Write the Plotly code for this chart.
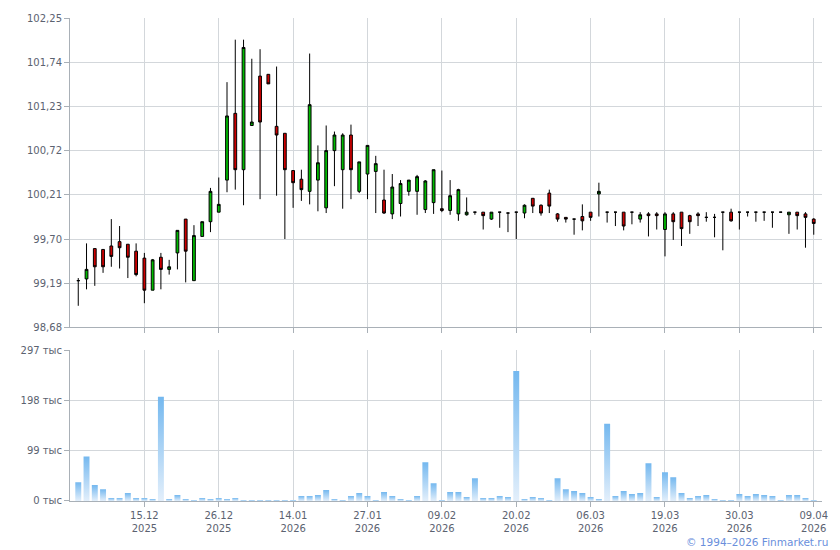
# Bond price candles with daily volume (Finmarket style)
import plotly.graph_objects as go

# Trading days shown on the chart
DATES = [
    "03.12.2025", "04.12.2025", "05.12.2025", "08.12.2025", "09.12.2025", "10.12.2025",
    "11.12.2025", "12.12.2025", "15.12.2025", "16.12.2025", "17.12.2025", "18.12.2025",
    "19.12.2025", "22.12.2025", "23.12.2025", "24.12.2025", "25.12.2025", "26.12.2025",
    "29.12.2025", "30.12.2025", "05.01.2026", "06.01.2026", "08.01.2026", "09.01.2026",
    "12.01.2026", "13.01.2026", "14.01.2026", "15.01.2026", "16.01.2026", "19.01.2026",
    "20.01.2026", "21.01.2026", "22.01.2026", "23.01.2026", "26.01.2026", "27.01.2026",
    "28.01.2026", "29.01.2026", "30.01.2026", "02.02.2026", "03.02.2026", "04.02.2026",
    "05.02.2026", "06.02.2026", "09.02.2026", "10.02.2026", "11.02.2026", "12.02.2026",
    "13.02.2026", "16.02.2026", "17.02.2026", "18.02.2026", "19.02.2026", "20.02.2026",
    "24.02.2026", "25.02.2026", "26.02.2026", "27.02.2026", "02.03.2026", "03.03.2026",
    "04.03.2026", "05.03.2026", "06.03.2026", "10.03.2026", "11.03.2026", "12.03.2026",
    "13.03.2026", "14.03.2026", "16.03.2026", "17.03.2026", "18.03.2026", "19.03.2026",
    "20.03.2026", "21.03.2026", "23.03.2026", "24.03.2026", "25.03.2026", "26.03.2026",
    "27.03.2026", "28.03.2026", "30.03.2026", "31.03.2026", "01.04.2026", "02.04.2026",
    "03.04.2026", "04.04.2026", "06.04.2026", "07.04.2026", "08.04.2026", "09.04.2026",
]

OPEN = [
    99.22, 99.24, 99.59, 99.58, 99.62, 99.67, 99.64, 99.56, 99.48, 99.11,
    99.49, 99.35, 99.54, 99.93, 99.22, 99.73, 99.90, 100.01, 100.38, 101.15,
    100.50, 101.01, 101.58, 101.60, 101.00, 100.92, 100.49, 100.39, 100.25, 100.38,
    100.06, 100.72, 100.50, 100.90, 100.25, 100.45, 100.48, 100.15, 99.99, 100.11,
    100.25, 100.25, 100.04, 100.12, 100.05, 100.03, 99.99, 99.98, 100.01, 100.01,
    99.93, 100.01, 100.00, 100.01, 100.00, 100.17, 100.09, 100.23, 99.99, 99.95,
    99.93, 99.96, 100.01, 100.22, 100.01, 100.01, 100.01, 100.01, 99.93, 99.99,
    99.99, 99.81, 99.99, 100.01, 99.97, 99.99, 99.95, 99.95, 100.01, 100.01,
    100.01, 100.01, 100.01, 100.01, 100.01, 100.01, 99.98, 100.01, 99.99, 99.93,
]
HIGH = [
    99.25, 99.65, 99.59, 99.58, 99.93, 99.85, 99.64, 99.65, 99.54, 99.47,
    99.54, 99.46, 99.80, 99.93, 99.86, 99.90, 100.29, 100.41, 101.51, 102.00,
    102.00, 101.78, 101.89, 101.60, 101.69, 100.92, 100.49, 100.50, 101.84, 100.78,
    101.01, 100.94, 100.92, 101.02, 100.59, 100.78, 100.66, 100.50, 100.45, 100.38,
    100.38, 100.44, 100.38, 100.50, 100.49, 100.38, 100.28, 100.18, 100.01, 100.01,
    100.01, 100.01, 100.00, 100.01, 100.10, 100.17, 100.10, 100.27, 100.00, 99.95,
    99.93, 100.10, 100.01, 100.35, 100.01, 100.01, 100.01, 100.01, 100.01, 100.01,
    100.01, 100.01, 100.01, 100.01, 99.98, 100.01, 100.01, 99.99, 100.01, 100.05,
    100.01, 100.01, 100.01, 100.01, 100.01, 100.01, 100.01, 100.01, 100.01, 99.94,
]
LOW = [
    98.93, 99.12, 99.16, 99.31, 99.38, 99.36, 99.25, 99.27, 98.96, 99.11,
    99.12, 99.29, 99.35, 99.20, 99.22, 99.73, 99.78, 100.01, 100.24, 100.27,
    100.09, 101.01, 100.16, 101.49, 100.20, 99.70, 100.06, 100.14, 100.10, 100.02,
    100.00, 100.31, 100.05, 100.16, 100.23, 100.16, 100.00, 99.99, 99.93, 99.96,
    100.20, 99.98, 100.00, 99.99, 100.01, 99.98, 99.91, 99.97, 99.98, 99.81,
    99.92, 99.83, 99.78, 99.70, 99.94, 100.00, 99.97, 100.00, 99.90, 99.89,
    99.75, 99.80, 99.91, 99.96, 99.89, 99.85, 99.80, 99.87, 99.89, 99.73,
    99.81, 99.50, 99.69, 99.62, 99.76, 99.85, 99.90, 99.72, 99.57, 99.90,
    99.81, 99.96, 99.90, 99.91, 99.83, 100.01, 99.76, 99.81, 99.60, 99.75,
]
CLOSE = [
    99.22, 99.35, 99.38, 99.38, 99.50, 99.60, 99.49, 99.29, 99.11, 99.46,
    99.35, 99.38, 99.80, 99.56, 99.74, 99.90, 100.25, 100.10, 101.12, 100.50,
    101.91, 101.05, 101.05, 101.49, 100.90, 100.50, 100.35, 100.27, 101.25, 100.58,
    100.72, 100.90, 100.90, 100.50, 100.59, 100.78, 100.57, 100.00, 100.30, 100.34,
    100.38, 100.42, 100.37, 100.50, 100.03, 100.20, 100.27, 100.01, 100.01, 99.97,
    100.01, 100.01, 100.00, 100.01, 100.09, 100.08, 100.00, 100.08, 99.93, 99.93,
    99.93, 99.91, 99.95, 100.25, 100.01, 100.01, 99.85, 100.01, 99.98, 99.97,
    99.97, 99.99, 99.90, 99.82, 99.90, 99.97, 99.95, 99.95, 100.01, 99.91,
    100.01, 100.01, 100.01, 100.01, 100.01, 100.01, 100.01, 99.97, 99.95, 99.88,
]
# Daily volume, pieces
VOLUME = [
    37100, 87900, 31300, 23400, 5900, 5900, 15600, 5900, 5900, 3900,
    205200, 3900, 11700, 3900, 2000, 5900, 3900, 5900, 3900, 5900,
    2000, 2000, 2000, 2000, 2000, 2000, 2000, 9800, 9800, 11700,
    21500, 3900, 2000, 9800, 15600, 9800, 2000, 17600, 9800, 3900,
    2000, 9800, 76200, 35200, 2000, 17600, 17600, 7800, 44900, 5900,
    5900, 9800, 7800, 256000, 3900, 7800, 5900, 2000, 44900, 23400,
    19500, 15600, 7800, 3900, 152400, 9800, 19500, 13700, 15600, 74200,
    7800, 56700, 46900, 15600, 5900, 9800, 11700, 3900, 2000, 2000,
    13700, 9800, 13700, 11700, 9800, 2000, 11700, 11700, 5900, 2000,
]

TICK_DATES = ["15.12.2025", "26.12.2025", "14.01.2026", "27.01.2026", "09.02.2026",
              "20.02.2026", "06.03.2026", "19.03.2026", "30.03.2026", "09.04.2026"]
PRICE_TICKS = [98.68, 99.19, 99.70, 100.21, 100.72, 101.23, 101.74, 102.25]
VOLUME_TICKS = [0, 99000, 198000, 297000]

GRID = "#d3d7db"
AXIS = "#a9b0b7"
TEXT = "#5b6270"
FONT = "DejaVu Sans"

idx = list(range(len(DATES)))
tick_idx = [DATES.index(d) for d in TICK_DATES]
tick_txt = [d[:5] + "<br>" + d[6:] for d in TICK_DATES]

fig = go.Figure()

fig.add_trace(go.Candlestick(
    x=idx, open=OPEN, high=HIGH, low=LOW, close=CLOSE,
    increasing=dict(fillcolor="#00bb00", line=dict(color="black", width=1)),
    decreasing=dict(fillcolor="#cc0000", line=dict(color="black", width=1)),
    whiskerwidth=0,
    xaxis="x", yaxis="y",
    showlegend=False,
))

# volume bars with a vertical gradient (one filled trace per bar)
half = 0.36
for i, v in zip(idx, VOLUME):
    fig.add_trace(go.Scatter(
        x=[i - half, i + half], y=[v, v],
        mode="none", fill="tozeroy",
        fillgradient=dict(type="vertical",
                          colorscale=[[0, "#e3effb"], [1, "#74b8ef"]]),
        xaxis="x2", yaxis="y2",
        showlegend=False, hoverinfo="skip",
    ))

axis_common = dict(
    showgrid=True, gridcolor=GRID, gridwidth=1,
    showline=True, linecolor=AXIS, linewidth=1,
    ticks="outside", ticklen=5, tickcolor=AXIS,
    zeroline=False,
    tickfont=dict(family=FONT, size=10, color=TEXT),
)

fig.update_layout(
    width=840, height=550,
    margin=dict(l=70, r=18, t=14, b=49),
    paper_bgcolor="white", plot_bgcolor="white",
    font=dict(family=FONT, size=10, color=TEXT),
    boxgap=0.52,
    xaxis=dict(axis_common, domain=[0, 1], range=[-1, 90], anchor="y",
               tickvals=tick_idx, ticktext=tick_txt, showticklabels=False,
               rangeslider=dict(visible=False)),
    yaxis=dict(axis_common, domain=[0.3593, 1], range=[98.68, 102.25], anchor="x",
               tickvals=PRICE_TICKS,
               ticktext=[f"{t:.2f}".replace(".", ",") for t in PRICE_TICKS]),
    xaxis2=dict(axis_common, domain=[0, 1], range=[-1, 90], anchor="y2", matches="x",
                tickvals=tick_idx, ticktext=tick_txt),
    yaxis2=dict(axis_common, domain=[0, 0.3121], range=[0, 297000], anchor="x2",
                tickvals=VOLUME_TICKS,
                ticktext=[f"{t // 1000} тыс" for t in VOLUME_TICKS]),
    showlegend=False,
)

fig.add_annotation(
    text="© 1994–2026 Finmarket.ru",
    xref="paper", yref="paper", x=1.011, y=-0.084,
    xanchor="right", yanchor="middle", showarrow=False,
    font=dict(family=FONT, size=10.5, color="#6a8fdc"),
)

# page body has a default margin; drop it so the chart sits at the window corner
fig.write_html("out.html", config={"displayModeBar": False},
               post_script="document.body.style.margin='0';")
